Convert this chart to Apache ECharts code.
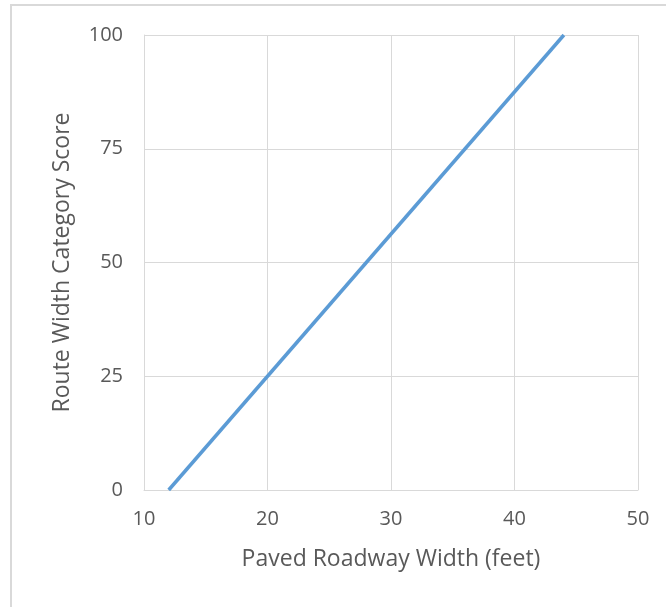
<!DOCTYPE html>
<html>
<head>
<meta charset="utf-8">
<script src="https://cdn.jsdelivr.net/npm/echarts@6/dist/echarts.min.js"></script>
<style>
  html, body { margin: 0; padding: 0; background: #fff; }
  #chart { width: 666px; height: 607px; }
</style>
</head>
<body>
<div id="chart"></div>
<script>
// line endpoints
const widthFeet = [12, 44];
const scores = [0, 100];

const chart = echarts.init(document.getElementById('chart'));
const font = '"Open Sans", "Noto Sans", sans-serif';

chart.setOption({
  animation: false,
  grid: { left: 144, right: 28, top: 35, bottom: 117 },
  graphic: [
    // outer chart frame (left and top edges visible)
    { type: 'line', shape: { x1: 11, y1: 5, x2: 11, y2: 607 }, style: { stroke: '#d9d9d9', lineWidth: 2 } },
    { type: 'line', shape: { x1: 10, y1: 5, x2: 666, y2: 5 }, style: { stroke: '#d9d9d9', lineWidth: 2 } }
  ],
  xAxis: {
    type: 'value', min: 10, max: 50, interval: 10,
    name: 'Paved Roadway Width (feet)', nameLocation: 'middle', nameGap: 58,
    nameTextStyle: { color: '#595959', fontSize: 23, fontFamily: font },
    axisLine: { show: true, lineStyle: { color: '#d9d9d9' } },
    axisTick: { show: false },
    axisLabel: { color: '#595959', fontSize: 20, fontFamily: font, margin: 19 },
    splitLine: { show: true, lineStyle: { color: '#d9d9d9' } }
  },
  yAxis: {
    type: 'value', min: 0, max: 100, interval: 25,
    name: 'Route Width Category Score', nameLocation: 'middle', nameGap: 70,
    nameTextStyle: { color: '#595959', fontSize: 23, fontFamily: font },
    axisLine: { show: true, lineStyle: { color: '#d9d9d9' } },
    axisTick: { show: false },
    axisLabel: { color: '#595959', fontSize: 20, fontFamily: font, margin: 21 },
    splitLine: { show: true, lineStyle: { color: '#d9d9d9' } }
  },
  series: [{
    type: 'line',
    data: widthFeet.map((x, i) => [x, scores[i]]),
    showSymbol: false,
    lineStyle: { color: '#5b9bd5', width: 3.5 }
  }]
});
</script>
</body>
</html>
